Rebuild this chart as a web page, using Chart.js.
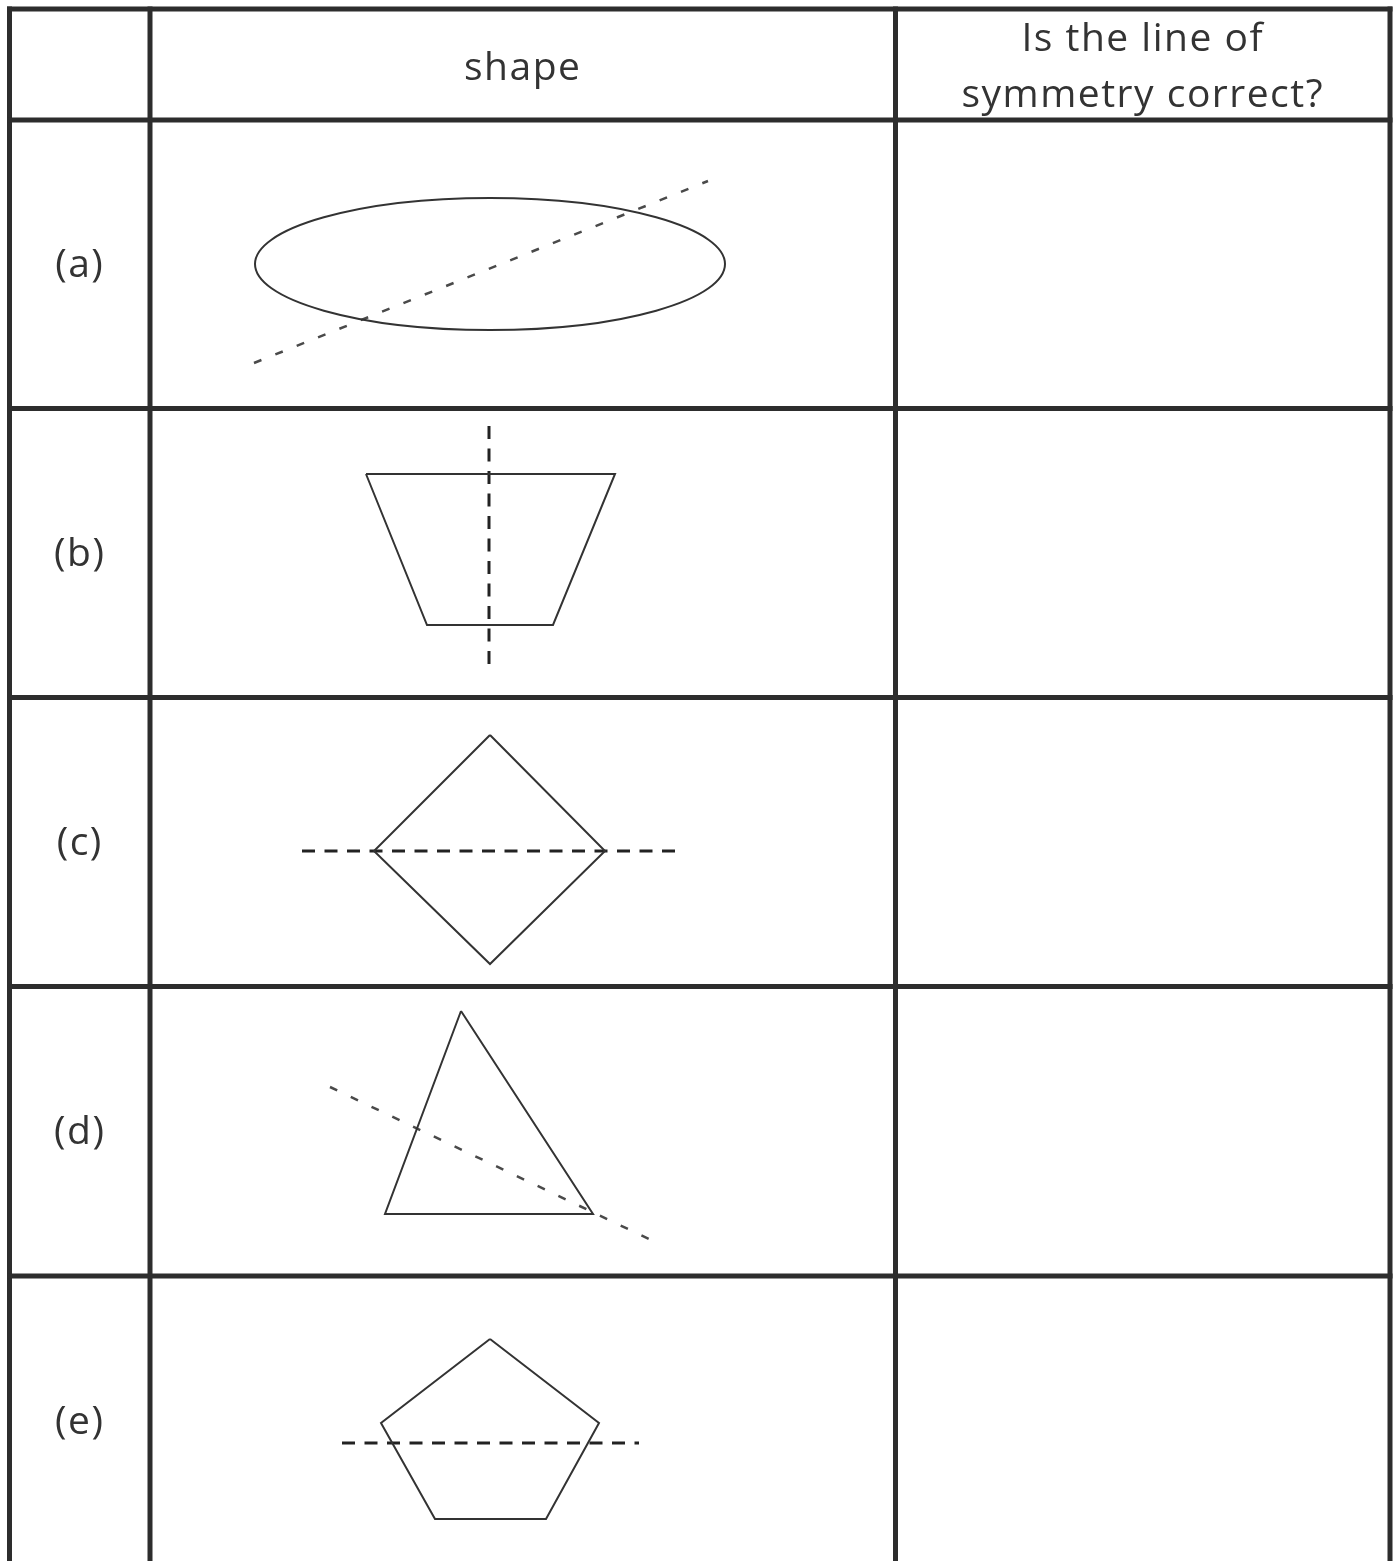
<!DOCTYPE html>
<html>
<head>
<meta charset="utf-8">
<script src="https://cdn.jsdelivr.net/npm/chart.js@4/dist/chart.umd.min.js"></script>
<style>
  html, body { margin: 0; padding: 0; background: #fff; }
  #sheet { display: block; }
</style>
</head>
<body>
<canvas id="sheet" width="1400" height="1561"></canvas>
<script>
// worksheet units: x 0..1400 across, y 0..1561 downwards
const colEdges = [9.5, 150, 895.5, 1390]
const rowEdges = [9, 120, 408.5, 697.5, 986.5, 1276]
const tableBottom = 1561

const rowLabels = ['(a)', '(b)', '(c)', '(d)', '(e)']
const headerShape = 'shape'
const headerQuestion = ['Is the line of', 'symmetry correct?']

// (a) ellipse: centre x, centre y, radius x, radius y
const ellipseA = [490, 264, 235, 66]
const lineA = [[254, 363], [708, 181]]

// (b) trapezium
const shapeB = [[366, 474], [615, 474], [553, 625], [427, 625]]
const lineB = [[489, 426], [489, 666]]

// (c) kite / square on its point
const shapeC = [[490, 735], [605, 851], [490, 964], [374, 851]]
const lineC = [[302, 851], [680, 851]]

// (d) triangle
const shapeD = [[461, 1011], [593, 1214], [385, 1214]]
const lineD = [[330, 1087], [651, 1240]]

// (e) pentagon
const shapeE = [[490, 1339], [599, 1423], [546, 1519], [435, 1519], [381, 1423]]
const lineE = [[342, 1443], [639, 1443]]

const toPts = (arr) => arr.map(([x, y]) => ({ x, y }))
const closed = (arr) => toPts(arr.concat([arr[0]]))

const gridColor = '#2d2d2d'
const inkColor = '#333333'

const gridSets = []
rowEdges.forEach((y) => {
  gridSets.push({ data: toPts([[colEdges[0] - 2.5, y], [colEdges[3] + 2.5, y]]) })
})
colEdges.forEach((x) => {
  gridSets.push({ data: toPts([[x, rowEdges[0] - 2.5], [x, tableBottom]]) })
})
gridSets.forEach((d) => {
  d.borderColor = gridColor
  d.borderWidth = 5
})

const outline = (arr) => ({
  data: closed(arr),
  borderColor: inkColor,
  borderWidth: 2,
})
const boldDash = (arr) => ({
  data: toPts(arr),
  borderColor: '#222',
  borderWidth: 3,
  borderDash: [13, 9.5],
})
const thinDash = (arr) => ({
  data: toPts(arr),
  borderColor: '#4a4a4a',
  borderWidth: 2.5,
  borderDash: [8, 15],
})

const datasets = gridSets.concat([
  thinDash(lineA),
  outline(shapeB), boldDash(lineB),
  outline(shapeC), boldDash(lineC),
  outline(shapeD), thinDash(lineD),
  outline(shapeE), boldDash(lineE),
]).map((d) => Object.assign({
  showLine: true,
  pointRadius: 0,
  pointHoverRadius: 0,
  tension: 0,
  fill: false,
  borderCapStyle: 'butt',
  borderJoinStyle: 'miter',
  clip: false,
}, d))

const sheetPlugin = {
  id: 'sheetPlugin',
  afterDatasetsDraw(chart) {
    const { ctx, scales: { x, y } } = chart
    ctx.save()

    // ellipse for (a)
    const [cx, cy, rx, ry] = ellipseA
    const px = x.getPixelForValue(cx)
    const py = y.getPixelForValue(cy)
    const prx = Math.abs(x.getPixelForValue(cx + rx) - px)
    const pry = Math.abs(y.getPixelForValue(cy + ry) - py)
    ctx.beginPath()
    ctx.ellipse(px, py, prx, pry, 0, 0, Math.PI * 2)
    ctx.strokeStyle = inkColor
    ctx.lineWidth = 2
    ctx.stroke()

    // texts
    ctx.fillStyle = '#333'
    ctx.textAlign = 'center'
    ctx.font = '39px "Open Sans"'
    ctx.letterSpacing = '1.5px'
    ctx.textBaseline = 'alphabetic'
    const shapeMid = (colEdges[1] + colEdges[2]) / 2
    const askMid = (colEdges[2] + colEdges[3]) / 2
    ctx.fillText(headerShape, x.getPixelForValue(shapeMid), y.getPixelForValue(80))
    ctx.fillText(headerQuestion[0], x.getPixelForValue(askMid), y.getPixelForValue(51))
    ctx.fillText(headerQuestion[1], x.getPixelForValue(askMid), y.getPixelForValue(107))

    ctx.textBaseline = 'middle'
    const labelMid = (colEdges[0] + colEdges[1]) / 2
    rowLabels.forEach((lab, i) => {
      const top = rowEdges[i + 1]
      const bottom = i + 2 < rowEdges.length ? rowEdges[i + 2] : top + 289
      ctx.fillText(lab, x.getPixelForValue(labelMid), y.getPixelForValue((top + bottom) / 2 + 2))
    })
    ctx.restore()
  },
}

new Chart(document.getElementById('sheet').getContext('2d'), {
  type: 'scatter',
  data: { datasets },
  options: {
    responsive: false,
    animation: false,
    events: [],
    layout: { padding: 0 },
    plugins: {
      legend: { display: false },
      tooltip: { enabled: false },
    },
    scales: {
      x: { type: 'linear', min: 0, max: 1400, display: false },
      y: { type: 'linear', min: 0, max: 1561, reverse: true, display: false },
    },
  },
  plugins: [sheetPlugin],
})
</script>
</body>
</html>
